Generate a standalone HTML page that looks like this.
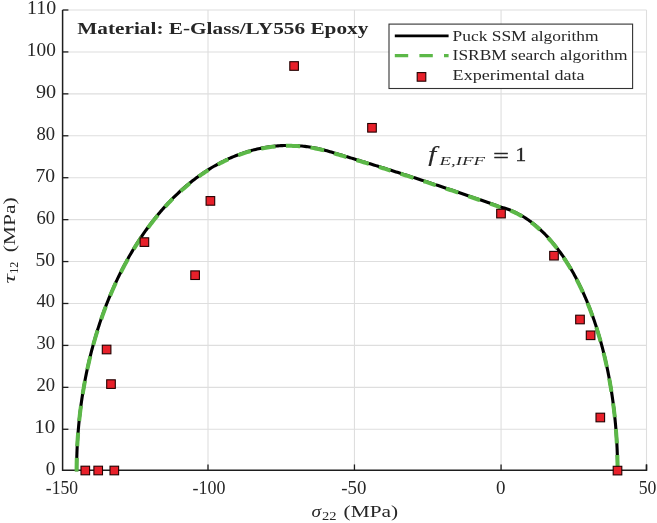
<!DOCTYPE html>
<html><head><meta charset="utf-8"><style>
html,body{margin:0;padding:0;background:#fff;}
svg{display:block;}
text{font-family:"Liberation Serif","DejaVu Serif",serif;fill:#262626;}
</style></head><body>
<svg width="657" height="523" viewBox="0 0 657 523">
<rect width="657" height="523" fill="#fff"/>
<g stroke="#dedede" stroke-width="1.1"><line x1="208.00" y1="10" x2="208.00" y2="470.25"/><line x1="354.45" y1="10" x2="354.45" y2="470.25"/><line x1="501.07" y1="10" x2="501.07" y2="470.25"/><line x1="646.50" y1="10" x2="646.50" y2="470.25"/><line x1="62.6" y1="429.27" x2="646.5" y2="429.27"/><line x1="62.6" y1="387.35" x2="646.5" y2="387.35"/><line x1="62.6" y1="345.42" x2="646.5" y2="345.42"/><line x1="62.6" y1="303.49" x2="646.5" y2="303.49"/><line x1="62.6" y1="261.56" x2="646.5" y2="261.56"/><line x1="62.6" y1="219.64" x2="646.5" y2="219.64"/><line x1="62.6" y1="177.71" x2="646.5" y2="177.71"/><line x1="62.6" y1="135.78" x2="646.5" y2="135.78"/><line x1="62.6" y1="93.85" x2="646.5" y2="93.85"/><line x1="62.6" y1="51.93" x2="646.5" y2="51.93"/><line x1="62.6" y1="10.00" x2="646.5" y2="10.00"/></g>
<g stroke="#1e1e1e" stroke-width="1.3"><line x1="208.00" y1="470.25" x2="208.00" y2="464.45"/><line x1="354.45" y1="470.25" x2="354.45" y2="464.45"/><line x1="501.07" y1="470.25" x2="501.07" y2="464.45"/><line x1="646.50" y1="470.25" x2="646.50" y2="464.45"/><line x1="62.6" y1="429.27" x2="68.4" y2="429.27"/><line x1="62.6" y1="387.35" x2="68.4" y2="387.35"/><line x1="62.6" y1="345.42" x2="68.4" y2="345.42"/><line x1="62.6" y1="303.49" x2="68.4" y2="303.49"/><line x1="62.6" y1="261.56" x2="68.4" y2="261.56"/><line x1="62.6" y1="219.64" x2="68.4" y2="219.64"/><line x1="62.6" y1="177.71" x2="68.4" y2="177.71"/><line x1="62.6" y1="135.78" x2="68.4" y2="135.78"/><line x1="62.6" y1="93.85" x2="68.4" y2="93.85"/><line x1="62.6" y1="51.93" x2="68.4" y2="51.93"/><line x1="62.6" y1="10.00" x2="68.4" y2="10.00"/></g>
<path d="M62.6,10 L62.6,470.25 L646.5,470.25 L646.5,464.45" fill="none" stroke="#1e1e1e" stroke-width="1.5"/>
<path d="M76.60,471.20 L76.60,469.70 L76.61,468.19 L76.62,466.69 L76.64,465.19 L76.66,463.68 L76.68,462.18 L76.71,460.68 L76.75,459.18 L76.78,457.67 L76.83,456.17 L76.87,454.67 L76.93,453.17 L76.98,451.66 L77.04,450.16 L77.11,448.66 L77.18,447.16 L77.25,445.66 L77.33,444.16 L77.42,442.66 L77.50,441.15 L77.60,439.65 L77.69,438.15 L77.80,436.65 L77.90,435.16 L78.01,433.66 L78.13,432.16 L78.25,430.66 L78.37,429.16 L78.50,427.66 L78.64,426.17 L78.77,424.67 L78.92,423.17 L79.07,421.68 L79.22,420.18 L79.37,418.69 L79.53,417.19 L79.70,415.70 L79.87,414.20 L80.05,412.71 L80.23,411.22 L80.41,409.73 L80.60,408.24 L80.79,406.75 L80.99,405.26 L81.19,403.77 L81.40,402.28 L81.61,400.79 L81.83,399.30 L82.05,397.81 L82.28,396.33 L82.51,394.84 L82.74,393.36 L82.98,391.87 L83.23,390.39 L83.48,388.91 L83.73,387.43 L83.99,385.95 L84.25,384.47 L84.52,382.99 L84.79,381.51 L85.07,380.03 L85.36,378.56 L85.64,377.08 L85.93,375.61 L86.23,374.13 L86.53,372.66 L86.84,371.19 L87.15,369.72 L87.47,368.25 L87.79,366.78 L88.11,365.31 L88.44,363.85 L88.78,362.38 L89.12,360.92 L89.46,359.45 L89.81,357.99 L90.17,356.53 L90.53,355.07 L90.89,353.61 L91.26,352.16 L91.64,350.70 L92.02,349.25 L92.40,347.79 L92.79,346.34 L93.19,344.89 L93.59,343.44 L93.99,341.99 L94.40,340.55 L94.81,339.10 L95.23,337.66 L95.66,336.22 L96.09,334.78 L96.52,333.34 L96.96,331.90 L97.41,330.46 L97.86,329.03 L98.31,327.60 L98.77,326.17 L99.24,324.74 L99.71,323.31 L100.18,321.88 L100.66,320.46 L101.15,319.04 L101.64,317.62 L102.14,316.20 L102.64,314.78 L103.15,313.36 L103.66,311.95 L104.18,310.54 L104.70,309.13 L105.23,307.72 L105.76,306.32 L106.30,304.92 L106.85,303.51 L107.40,302.12 L107.95,300.72 L108.51,299.32 L109.08,297.93 L109.65,296.54 L110.23,295.15 L110.81,293.77 L111.40,292.38 L111.99,291.00 L112.59,289.62 L113.19,288.25 L113.80,286.87 L114.42,285.50 L115.04,284.13 L115.67,282.77 L116.30,281.40 L116.94,280.04 L117.58,278.69 L118.23,277.33 L118.89,275.98 L119.55,274.63 L120.22,273.28 L120.89,271.94 L121.57,270.59 L122.25,269.26 L122.94,267.92 L123.64,266.59 L124.34,265.26 L125.05,263.93 L125.76,262.61 L126.48,261.29 L127.21,259.97 L127.94,258.66 L128.68,257.35 L129.42,256.05 L130.17,254.74 L130.93,253.44 L131.69,252.15 L132.46,250.86 L133.23,249.57 L134.01,248.28 L134.80,247.00 L135.59,245.72 L136.39,244.45 L137.20,243.18 L138.01,241.92 L138.82,240.65 L139.65,239.40 L140.48,238.14 L141.32,236.90 L142.16,235.65 L143.01,234.41 L143.86,233.18 L144.73,231.94 L145.60,230.72 L146.47,229.50 L147.35,228.28 L148.24,227.07 L149.14,225.86 L150.04,224.65 L150.94,223.46 L151.86,222.26 L152.78,221.08 L153.71,219.89 L154.64,218.72 L155.58,217.54 L156.53,216.38 L157.49,215.22 L158.45,214.06 L159.42,212.91 L160.39,211.77 L161.37,210.63 L162.36,209.50 L163.36,208.37 L164.36,207.25 L165.37,206.13 L166.38,205.03 L167.40,203.92 L168.43,202.83 L169.47,201.74 L170.51,200.66 L171.56,199.58 L172.62,198.51 L173.68,197.45 L174.76,196.40 L175.83,195.35 L176.92,194.31 L178.01,193.28 L179.11,192.25 L180.22,191.23 L181.33,190.22 L182.45,189.22 L183.58,188.23 L184.71,187.24 L185.85,186.26 L187.00,185.29 L188.15,184.33 L189.32,183.37 L190.49,182.43 L191.66,181.49 L192.84,180.57 L194.03,179.65 L195.23,178.74 L196.43,177.84 L197.65,176.95 L198.86,176.06 L200.09,175.19 L201.32,174.33 L202.56,173.48 L203.80,172.64 L205.05,171.80 L206.31,170.98 L207.58,170.17 L208.85,169.37 L210.13,168.58 L211.41,167.80 L212.71,167.03 L214.00,166.27 L215.31,165.53 L216.62,164.79 L217.94,164.07 L219.26,163.36 L220.59,162.66 L221.93,161.97 L223.27,161.29 L224.62,160.63 L225.97,159.98 L227.34,159.34 L228.70,158.71 L230.07,158.10 L231.45,157.50 L232.84,156.91 L234.23,156.34 L235.62,155.78 L237.02,155.23 L238.42,154.70 L239.84,154.18 L241.25,153.67 L242.67,153.18 L244.10,152.70 L245.53,152.24 L246.96,151.79 L248.40,151.35 L249.84,150.93 L251.29,150.53 L252.74,150.13 L254.20,149.76 L255.66,149.40 L257.12,149.05 L258.59,148.72 L260.06,148.41 L261.53,148.11 L263.00,147.82 L264.48,147.55 L265.96,147.30 L267.45,147.07 L268.94,146.84 L270.43,146.64 L271.92,146.45 L273.41,146.28 L274.90,146.12 L276.40,145.98 L277.90,145.86 L279.40,145.75 L280.90,145.65 L282.40,145.58 L283.90,145.52 L285.40,145.48 L286.91,145.45 L288.41,145.44 L289.91,145.45 L291.42,145.47 L292.92,145.51 L294.42,145.56 L295.92,145.63 L297.42,145.72 L298.92,145.83 L300.42,145.95 L301.92,146.08 L303.41,146.24 L304.91,146.40 L306.40,146.59 L307.89,146.79 L309.38,147.01 L310.86,147.24 L312.34,147.49 L313.82,147.75 L315.30,148.03 L316.77,148.33 L318.25,148.64 L319.71,148.97 L321.18,149.31 L322.64,149.66 L324.09,150.04 L325.55,150.42 L326.99,150.82 L328.44,151.24 L329.88,151.67 L331.32,152.09 L332.76,152.52 L334.20,152.95 L335.64,153.38 L337.08,153.81 L338.52,154.24 L339.96,154.67 L341.40,155.10 L342.84,155.53 L344.28,155.96 L345.72,156.40 L347.16,156.83 L348.60,157.26 L350.04,157.70 L351.48,158.13 L352.92,158.57 L354.36,159.00 L355.80,159.44 L357.23,159.88 L358.67,160.32 L360.11,160.75 L361.55,161.19 L362.99,161.63 L364.42,162.07 L365.86,162.51 L367.30,162.95 L368.73,163.40 L370.17,163.84 L371.61,164.28 L373.04,164.72 L374.48,165.17 L375.92,165.61 L377.35,166.06 L378.79,166.50 L380.22,166.95 L381.66,167.40 L383.09,167.84 L384.53,168.29 L385.96,168.74 L387.40,169.19 L388.83,169.64 L390.26,170.09 L391.70,170.54 L393.13,170.99 L394.57,171.45 L396.00,171.90 L397.43,172.35 L398.86,172.81 L400.30,173.26 L401.73,173.72 L403.16,174.17 L404.59,174.63 L406.03,175.09 L407.46,175.55 L408.89,176.01 L410.32,176.47 L411.75,176.93 L413.18,177.39 L414.61,177.85 L416.04,178.31 L417.47,178.77 L418.90,179.24 L420.33,179.70 L421.76,180.16 L423.19,180.63 L424.62,181.10 L426.05,181.56 L427.48,182.03 L428.91,182.50 L430.34,182.97 L431.76,183.44 L433.19,183.91 L434.62,184.38 L436.05,184.85 L437.47,185.32 L438.90,185.79 L440.33,186.27 L441.75,186.74 L443.18,187.22 L444.60,187.69 L446.03,188.17 L447.46,188.65 L448.88,189.12 L450.31,189.60 L451.73,190.08 L453.16,190.56 L454.58,191.04 L456.00,191.53 L457.43,192.01 L458.85,192.49 L460.27,192.97 L461.70,193.46 L463.12,193.95 L464.54,194.43 L465.96,194.92 L467.39,195.41 L468.81,195.89 L470.23,196.38 L471.65,196.87 L473.07,197.36 L474.49,197.86 L475.91,198.35 L477.33,198.84 L478.75,199.34 L480.17,199.83 L481.59,200.33 L483.01,200.82 L484.43,201.32 L485.84,201.82 L487.26,202.32 L488.68,202.82 L490.10,203.32 L491.52,203.82 L492.93,204.32 L494.35,204.82 L495.76,205.33 L497.18,205.83 L498.60,206.34 L500.01,206.84 L501.45,207.27 L502.90,207.66 L504.35,208.08 L505.78,208.53 L507.21,209.00 L508.62,209.51 L510.03,210.04 L511.42,210.60 L512.81,211.19 L514.18,211.80 L515.54,212.44 L516.89,213.10 L518.23,213.79 L519.55,214.50 L520.87,215.23 L522.17,215.98 L523.46,216.76 L524.73,217.55 L525.99,218.36 L527.24,219.20 L528.48,220.05 L529.71,220.92 L530.92,221.81 L532.12,222.72 L533.31,223.64 L534.48,224.58 L535.64,225.53 L536.79,226.50 L537.93,227.49 L539.05,228.48 L540.16,229.49 L541.26,230.52 L542.35,231.56 L543.43,232.61 L544.49,233.67 L545.54,234.74 L546.58,235.83 L547.61,236.92 L548.63,238.03 L549.63,239.15 L550.63,240.28 L551.61,241.41 L552.58,242.56 L553.55,243.71 L554.50,244.88 L555.44,246.05 L556.36,247.23 L557.28,248.42 L558.19,249.62 L559.09,250.83 L559.98,252.04 L560.86,253.26 L561.73,254.49 L562.58,255.72 L563.43,256.96 L564.27,258.21 L565.10,259.46 L565.92,260.72 L566.74,261.98 L567.54,263.26 L568.33,264.53 L569.12,265.81 L569.89,267.10 L570.66,268.39 L571.42,269.69 L572.17,271.00 L572.91,272.30 L573.64,273.62 L574.37,274.93 L575.08,276.25 L575.79,277.58 L576.49,278.91 L577.18,280.24 L577.87,281.58 L578.54,282.92 L579.21,284.27 L579.88,285.62 L580.53,286.97 L581.18,288.33 L581.82,289.69 L582.45,291.06 L583.07,292.42 L583.69,293.79 L584.30,295.17 L584.90,296.54 L585.50,297.92 L586.09,299.31 L586.67,300.69 L587.25,302.08 L587.81,303.47 L588.38,304.87 L588.93,306.26 L589.48,307.66 L590.02,309.06 L590.56,310.47 L591.09,311.88 L591.61,313.28 L592.13,314.70 L592.64,316.11 L593.14,317.53 L593.64,318.94 L594.13,320.36 L594.62,321.79 L595.10,323.21 L595.57,324.64 L596.04,326.07 L596.51,327.50 L596.96,328.93 L597.41,330.36 L597.86,331.80 L598.30,333.24 L598.73,334.68 L599.16,336.12 L599.58,337.56 L600.00,339.00 L600.41,340.45 L600.81,341.90 L601.21,343.35 L601.61,344.80 L601.99,346.25 L602.38,347.70 L602.76,349.16 L603.13,350.61 L603.50,352.07 L603.86,353.53 L604.22,354.99 L604.57,356.45 L604.92,357.91 L605.26,359.38 L605.59,360.84 L605.93,362.31 L606.25,363.78 L606.57,365.24 L606.89,366.71 L607.20,368.18 L607.51,369.66 L607.81,371.13 L608.11,372.60 L608.40,374.08 L608.68,375.55 L608.97,377.03 L609.24,378.51 L609.52,379.98 L609.78,381.46 L610.05,382.94 L610.30,384.42 L610.56,385.91 L610.81,387.39 L611.05,388.87 L611.29,390.36 L611.52,391.84 L611.75,393.33 L611.98,394.81 L612.20,396.30 L612.41,397.79 L612.62,399.28 L612.83,400.76 L613.03,402.25 L613.23,403.74 L613.42,405.24 L613.61,406.73 L613.80,408.22 L613.98,409.71 L614.15,411.20 L614.32,412.70 L614.49,414.19 L614.65,415.69 L614.81,417.18 L614.96,418.68 L615.11,420.17 L615.25,421.67 L615.39,423.16 L615.53,424.66 L615.66,426.16 L615.78,427.66 L615.91,429.16 L616.02,430.65 L616.14,432.15 L616.25,433.65 L616.35,435.15 L616.45,436.65 L616.55,438.15 L616.64,439.65 L616.73,441.15 L616.81,442.65 L616.89,444.15 L616.96,445.66 L617.03,447.16 L617.10,448.66 L617.16,450.16 L617.22,451.66 L617.27,453.17 L617.32,454.67 L617.37,456.17 L617.41,457.67 L617.44,459.18 L617.47,460.68 L617.50,462.18 L617.52,463.68 L617.54,465.19 L617.56,466.69 L617.57,468.19 L617.58,469.70 L617.58,471.20" fill="none" stroke="#000" stroke-width="3.1"/>
<path d="M76.60,471.20 L76.60,469.70 L76.61,468.19 L76.62,466.69 L76.64,465.19 L76.66,463.68 L76.68,462.18 L76.71,460.68 L76.75,459.18 L76.78,457.67 L76.79,457.49 M77.25,445.81 L77.25,445.66 L77.33,444.16 L77.42,442.66 L77.50,441.15 L77.60,439.65 L77.69,438.15 L77.80,436.65 L77.90,435.16 L78.01,433.66 L78.12,432.22 M79.18,420.58 L79.22,420.18 L79.37,418.69 L79.53,417.19 L79.70,415.70 L79.87,414.20 L80.05,412.71 L80.23,411.22 L80.41,409.73 L80.60,408.24 L80.79,406.75 L80.99,405.27 M82.68,393.73 L82.74,393.36 L82.98,391.87 L83.23,390.39 L83.48,388.91 L83.73,387.43 L83.99,385.95 L84.25,384.47 L84.52,382.99 L84.79,381.51 L84.99,380.45 M87.30,369.04 L87.47,368.25 L87.79,366.78 L88.11,365.31 L88.44,363.85 L88.78,362.38 L89.12,360.92 L89.46,359.45 L89.81,357.99 L90.17,356.53 L90.33,355.86 M93.26,344.63 L93.59,343.44 L93.99,341.99 L94.40,340.55 L94.81,339.10 L95.23,337.66 L95.66,336.22 L96.09,334.78 L96.52,333.34 L96.96,331.90 L97.41,330.46 L97.57,329.94 M101.18,318.96 L101.64,317.62 L102.14,316.20 L102.64,314.78 L103.15,313.36 L103.66,311.95 L104.18,310.54 L104.70,309.13 L105.23,307.72 L105.76,306.32 L105.83,306.13 M110.10,295.46 L110.23,295.15 L110.81,293.77 L111.40,292.38 L111.99,291.00 L112.59,289.62 L113.19,288.25 L113.80,286.87 L114.42,285.50 L115.04,284.13 L115.67,282.77 L115.92,282.23 M120.88,271.95 L120.89,271.94 L121.57,270.59 L122.25,269.26 L122.94,267.92 L123.64,266.59 L124.34,265.26 L125.05,263.93 L125.76,262.61 L126.48,261.29 L127.21,259.97 L127.92,258.69 M133.63,248.91 L134.01,248.28 L134.80,247.00 L135.59,245.72 L136.39,244.45 L137.20,243.18 L138.01,241.92 L138.82,240.65 L139.65,239.40 L140.48,238.14 L141.32,236.90 L141.49,236.64 M147.95,227.47 L148.24,227.07 L149.14,225.86 L150.04,224.65 L150.94,223.46 L151.86,222.26 L152.78,221.08 L153.71,219.89 L154.64,218.72 L155.58,217.54 L156.53,216.38 L157.49,215.22 L157.85,214.77 M165.12,206.40 L165.37,206.13 L166.38,205.03 L167.40,203.92 L168.43,202.83 L169.47,201.74 L170.51,200.66 L171.56,199.58 L172.62,198.51 L172.79,198.35 M180.72,190.78 L181.33,190.22 L182.45,189.22 L183.58,188.23 L184.71,187.24 L185.85,186.26 L187.00,185.29 L188.15,184.33 L189.32,183.37 L190.05,182.78 M198.66,176.21 L198.86,176.06 L200.09,175.19 L201.32,174.33 L202.56,173.48 L203.80,172.64 L205.05,171.80 L206.31,170.98 L207.58,170.17 L208.49,169.59 M217.72,164.19 L217.94,164.07 L219.26,163.36 L220.59,162.66 L221.93,161.97 L223.27,161.29 L224.62,160.63 L225.97,159.98 L227.34,159.34 L228.39,158.86 M238.14,154.80 L238.42,154.70 L239.84,154.18 L241.25,153.67 L242.67,153.18 L244.10,152.70 L245.53,152.24 L246.96,151.79 L248.40,151.35 L249.84,150.93 L250.97,150.62 M261.14,148.19 L261.53,148.11 L263.00,147.82 L264.48,147.55 L265.96,147.30 L267.45,147.07 L268.94,146.84 L270.43,146.64 L271.92,146.45 L273.41,146.28 L274.90,146.12 L275.51,146.06 M285.89,145.47 L286.91,145.45 L288.41,145.44 L289.91,145.45 L291.42,145.47 L292.92,145.51 L294.42,145.56 L295.92,145.63 L297.42,145.72 L298.92,145.83 L300.18,145.93 M310.52,147.19 L310.86,147.24 L312.34,147.49 L313.82,147.75 L315.30,148.03 L316.77,148.33 L318.25,148.64 L319.71,148.97 L321.18,149.31 L322.64,149.66 L324.06,150.03 M334.14,152.93 L334.20,152.95 L335.64,153.38 L337.08,153.81 L338.52,154.24 L339.96,154.67 L341.40,155.10 L342.84,155.53 L344.28,155.96 L345.72,156.40 L346.38,156.59 M356.42,159.63 L357.23,159.88 L358.67,160.32 L360.11,160.75 L361.55,161.19 L362.99,161.63 L364.42,162.07 L365.86,162.51 L367.30,162.95 L368.73,163.40 L368.84,163.43 M378.86,166.53 L380.22,166.95 L381.66,167.40 L383.09,167.84 L384.53,168.29 L385.96,168.74 L387.40,169.19 L388.83,169.64 L390.26,170.09 L390.54,170.18 M400.56,173.35 L401.73,173.72 L403.16,174.17 L404.59,174.63 L406.03,175.09 L407.46,175.55 L408.89,176.01 L410.32,176.47 L411.75,176.93 L413.18,177.39 L413.50,177.49 M423.50,180.73 L424.62,181.10 L426.05,181.56 L427.48,182.03 L428.91,182.50 L430.34,182.97 L431.76,183.44 L433.19,183.91 L434.62,184.38 L435.86,184.79 M445.84,188.10 L446.03,188.17 L447.46,188.65 L448.88,189.12 L450.31,189.60 L451.73,190.08 L453.16,190.56 L454.58,191.04 L456.00,191.53 L457.43,192.01 L458.22,192.28 M468.17,195.68 L468.81,195.89 L470.23,196.38 L471.65,196.87 L473.07,197.36 L474.49,197.86 L475.91,198.35 L477.33,198.84 L478.75,199.34 L480.09,199.80 M490.01,203.29 L490.10,203.32 L491.52,203.82 L492.93,204.32 L494.35,204.82 L495.76,205.33 L497.18,205.83 L498.60,206.34 L500.01,206.84 L500.49,206.98 M510.46,210.22 L511.42,210.60 L512.81,211.19 L514.18,211.80 L515.54,212.44 L516.89,213.10 L518.23,213.79 L519.55,214.50 L520.87,215.23 L522.17,215.98 L522.35,216.09 M531.27,222.08 L532.12,222.72 L533.31,223.64 L534.48,224.58 L535.64,225.53 L536.79,226.50 L537.93,227.49 L539.05,228.48 L540.11,229.45 M547.88,237.21 L548.63,238.03 L549.63,239.15 L550.63,240.28 L551.61,241.41 L552.58,242.56 L553.55,243.71 L554.50,244.88 L555.44,246.05 L556.36,247.23 L557.05,248.12 M563.60,257.20 L564.27,258.21 L565.10,259.46 L565.92,260.72 L566.74,261.98 L567.54,263.26 L568.33,264.53 L569.12,265.81 L569.89,267.10 L570.66,268.39 L570.96,268.91 M576.45,278.84 L576.49,278.91 L577.18,280.24 L577.87,281.58 L578.54,282.92 L579.21,284.27 L579.88,285.62 L580.53,286.97 L581.18,288.33 L581.82,289.69 L582.45,291.06 L582.87,291.98 M587.42,302.50 L587.81,303.47 L588.38,304.87 L588.93,306.26 L589.48,307.66 L590.02,309.06 L590.56,310.47 L591.09,311.88 L591.61,313.28 L592.13,314.70 L592.56,315.88 M596.28,326.81 L596.51,327.50 L596.96,328.93 L597.41,330.36 L597.86,331.80 L598.30,333.24 L598.73,334.68 L599.16,336.12 L599.58,337.56 L600.00,339.00 L600.41,340.45 L600.57,341.04 M603.54,352.25 L603.86,353.53 L604.22,354.99 L604.57,356.45 L604.92,357.91 L605.26,359.38 L605.59,360.84 L605.93,362.31 L606.25,363.78 L606.57,365.24 L606.85,366.54 M609.14,377.95 L609.24,378.51 L609.52,379.98 L609.78,381.46 L610.05,382.94 L610.30,384.42 L610.56,385.91 L610.81,387.39 L611.05,388.87 L611.29,390.36 L611.44,391.32 M613.12,402.87 L613.23,403.74 L613.42,405.24 L613.61,406.73 L613.80,408.22 L613.98,409.71 L614.15,411.20 L614.32,412.70 L614.49,414.19 L614.65,415.69 L614.78,416.93 M615.86,428.56 L615.91,429.16 L616.02,430.65 L616.14,432.15 L616.25,433.65 L616.35,435.15 L616.45,436.65 L616.55,438.15 L616.64,439.65 L616.73,441.15 L616.81,442.65 L616.82,442.90 M617.32,454.59 L617.32,454.67 L617.37,456.17 L617.41,457.67 L617.44,459.18 L617.47,460.68 L617.50,462.18 L617.52,463.68 L617.54,465.19 L617.56,466.69 L617.57,468.19 L617.58,469.70 L617.58,471.20" transform="translate(0.0,0.4)" fill="none" stroke="#5cb848" stroke-width="4.0" stroke-linecap="butt"/>
<g fill="#e8202a" stroke="#220000" stroke-width="1.1"><rect x="81.00" y="466.20" width="8.6" height="8.6"/><rect x="93.90" y="466.20" width="8.6" height="8.6"/><rect x="110.00" y="466.20" width="8.6" height="8.6"/><rect x="102.30" y="345.20" width="8.6" height="8.6"/><rect x="106.70" y="379.80" width="8.6" height="8.6"/><rect x="140.10" y="237.80" width="8.6" height="8.6"/><rect x="206.10" y="196.60" width="8.6" height="8.6"/><rect x="190.80" y="270.90" width="8.6" height="8.6"/><rect x="289.80" y="61.70" width="8.6" height="8.6"/><rect x="367.70" y="123.50" width="8.6" height="8.6"/><rect x="496.70" y="209.30" width="8.6" height="8.6"/><rect x="549.70" y="251.40" width="8.6" height="8.6"/><rect x="575.70" y="315.20" width="8.6" height="8.6"/><rect x="586.30" y="331.00" width="8.6" height="8.6"/><rect x="596.00" y="413.20" width="8.6" height="8.6"/><rect x="613.20" y="466.30" width="8.6" height="8.6"/></g>
<g font-size="17.8px"><text x="45.66" y="475.20" textLength="9.64" lengthAdjust="spacingAndGlyphs">0</text><text x="34.31" y="433.27" textLength="20.99" lengthAdjust="spacingAndGlyphs">10</text><text x="36.51" y="391.35" textLength="18.59" lengthAdjust="spacingAndGlyphs">20</text><text x="36.51" y="349.42" textLength="18.59" lengthAdjust="spacingAndGlyphs">30</text><text x="36.51" y="307.49" textLength="18.59" lengthAdjust="spacingAndGlyphs">40</text><text x="35.51" y="265.56" textLength="19.59" lengthAdjust="spacingAndGlyphs">50</text><text x="36.51" y="223.64" textLength="18.59" lengthAdjust="spacingAndGlyphs">60</text><text x="35.51" y="181.71" textLength="19.59" lengthAdjust="spacingAndGlyphs">70</text><text x="36.51" y="139.78" textLength="18.59" lengthAdjust="spacingAndGlyphs">80</text><text x="35.91" y="97.85" textLength="20.19" lengthAdjust="spacingAndGlyphs">90</text><text x="26.87" y="55.93" textLength="28.93" lengthAdjust="spacingAndGlyphs">100</text><text x="26.97" y="14.00" textLength="29.13" lengthAdjust="spacingAndGlyphs">110</text></g>
<g font-size="17.8px"><text x="45.81" y="493.5" textLength="32.17" lengthAdjust="spacingAndGlyphs">-150</text><text x="192.51" y="493.5" textLength="32.87" lengthAdjust="spacingAndGlyphs">-100</text><text x="341.21" y="493.5" textLength="25.09" lengthAdjust="spacingAndGlyphs">-50</text><text x="496.13" y="493.5" textLength="9.48" lengthAdjust="spacingAndGlyphs">0</text><text x="638.72" y="493.5" textLength="17.67" lengthAdjust="spacingAndGlyphs">50</text></g>
<text x="77.3" y="34" font-size="17px" font-weight="bold" textLength="291" lengthAdjust="spacingAndGlyphs">Material: E-Glass/LY556 Epoxy</text>
<rect x="389" y="24.1" width="243.6" height="64.4" fill="#fff" stroke="#333" stroke-width="1.1"/>
<line x1="394.8" y1="35.9" x2="448.6" y2="35.9" stroke="#000" stroke-width="2.6"/>
<line x1="394.8" y1="55.6" x2="448.6" y2="55.6" stroke="#5cb848" stroke-width="3.4" stroke-dasharray="13.4 11.2"/>
<rect x="417.2" y="72.6" width="8.6" height="8.6" fill="#e8202a" stroke="#220000" stroke-width="1.1"/>
<g font-size="14.2px">
<text x="452.6" y="40.5" textLength="146" lengthAdjust="spacingAndGlyphs">Puck SSM algorithm</text>
<text x="452.6" y="59.8" textLength="175" lengthAdjust="spacingAndGlyphs">ISRBM search algorithm</text>
<text x="452.6" y="80.0" textLength="132" lengthAdjust="spacingAndGlyphs">Experimental data</text>
</g>
<text x="428.2" y="161.4" font-size="21px" font-style="italic" textLength="8.0" lengthAdjust="spacingAndGlyphs" stroke="#262626" stroke-width="0.1">f</text>
<text x="439.5" y="164.5" font-size="13.5px" font-style="italic" textLength="45.5" lengthAdjust="spacingAndGlyphs">E,IFF</text>
<text x="493.3" y="161.5" font-size="19px" textLength="15.6" lengthAdjust="spacingAndGlyphs" stroke="#262626" stroke-width="0.4">=</text>
<text x="515.3" y="161.2" font-size="19.5px" textLength="11" lengthAdjust="spacingAndGlyphs" stroke="#262626" stroke-width="0.3">1</text>
<text x="311.5" y="517" font-size="16.5px" font-style="italic" textLength="9.5" lengthAdjust="spacingAndGlyphs">σ</text>
<text x="322.0" y="520.2" font-size="12.5px" textLength="14.5" lengthAdjust="spacingAndGlyphs">22</text>
<text x="343.6" y="517" font-size="16.5px" textLength="54.5" lengthAdjust="spacingAndGlyphs">(MPa)</text>
<g transform="translate(14.6,283.5) rotate(-90)">
<text x="0.0" y="0" font-size="16.5px" font-style="italic" textLength="9.5" lengthAdjust="spacingAndGlyphs">τ</text>
<text x="9.8" y="2.9" font-size="12.8px" textLength="12.0" lengthAdjust="spacingAndGlyphs">12</text>
<text x="31.2" y="0" font-size="16.5px" textLength="55.0" lengthAdjust="spacingAndGlyphs">(MPa)</text>
</g>
</svg>
</body></html>
